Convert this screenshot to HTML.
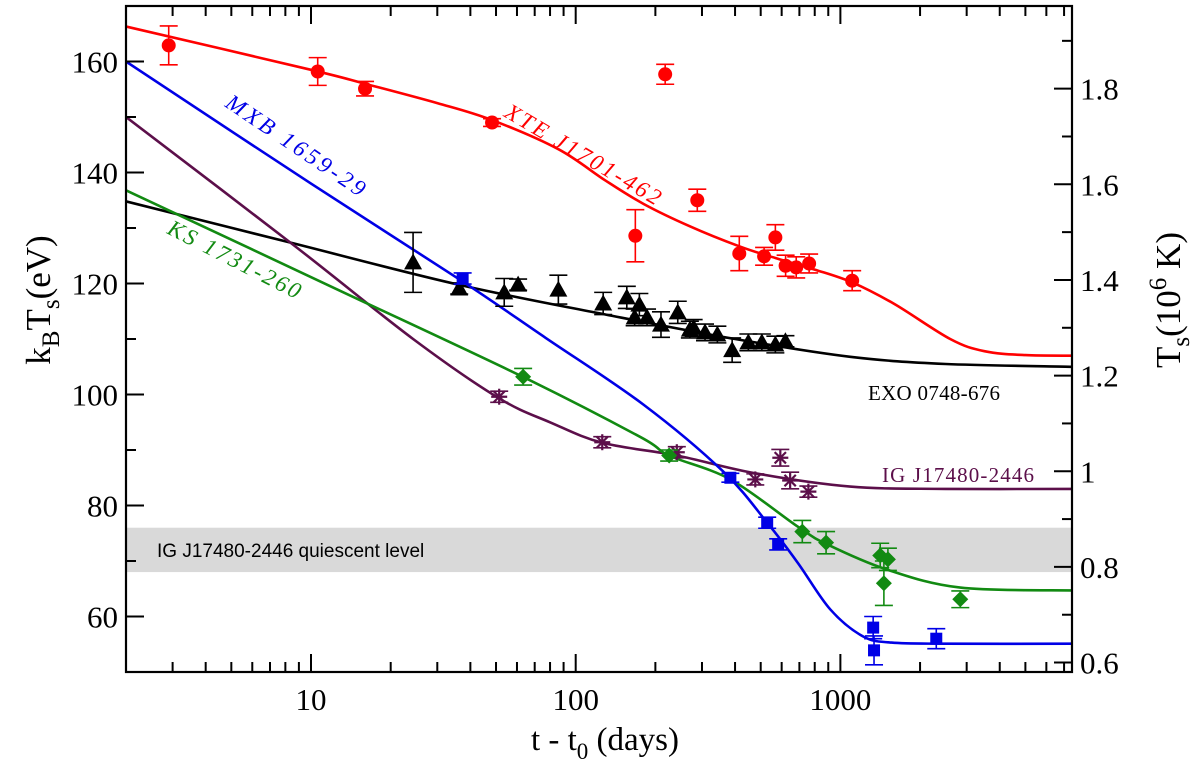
<!DOCTYPE html>
<html><head><meta charset="utf-8"><style>
body{margin:0;background:#fff;}
svg{display:block;font-family:"Liberation Serif",serif;}
</style></head><body>
<svg id="chart" width="1200" height="769" viewBox="0 0 1200 769" xmlns="http://www.w3.org/2000/svg"></svg>
<script>
// ---- data ----
const xTicksMajor = [10, 100, 1000];
const xTickLabels = ["10", "100", "1000"];
const yTicks = [60, 80, 100, 120, 140, 160];
const yTickLabels = ["60", "80", "100", "120", "140", "160"];
const rTicks = [0.6, 0.8, 1.0, 1.2, 1.4, 1.6, 1.8];
const rTickLabels = ["0.6", "0.8", "1", "1.2", "1.4", "1.6", "1.8"];
const bandRange = [68, 76];

const xteCurve = [[2,166.3],[10,158.5],[16,156],[30,152.5],[48,149.5],[86,144.2],[130,138.5],[181,134.3],[270,130.3],[415,126.7],[568,124.6],[800,122.5],[1108,120.2],[1600,116.3],[2600,110],[3500,107.8],[5000,107.1],[7500,107]];
const exoCurve = [[2,134.8],[8.3,127.4],[36,119.8],[130,114.4],[400,110],[1089,106.8],[2500,105.5],[7500,105]];
const mxbCurve = [[2,160],[10,138],[37,120.5],[77,110.2],[180,98.2],[361,86.1],[529,76.9],[690,69.7],[915,61.3],[1220,56.4],[1560,55.3],[2500,55.1],[7500,55.1]];
const igCurve = [[2,150],[8.55,127],[24.3,110],[51,99.4],[80,95],[126,91.3],[241,89],[477,85.8],[1089,83.4],[2500,83],[7500,83]];
const ksCurve = [[2,136.8],[12.1,119.3],[63,103.2],[176,92.3],[225,89],[384,84.7],[690,76.2],[883,73.1],[1490,68.5],[2838,65.2],[7500,64.7]];

const xtePts = [[2.9,162.9,3.5],[10.6,158.2,2.5],[16,155.1,1.3],[48.3,149,0.7],[217.8,157.7,1.8],[168,128.6,4.7],[288,135,2],[415,125.4,3.1],[515,124.9,1.6],[568,128.3,2.3],[621,123.2,1.9],[681,122.9,1.9],[762,123.6,1.7],[1108,120.5,1.8]];
const exoPts = [[24.3,123.8,5.4],[36.3,119.1,1],[53.7,118.4,2.5],[60.6,119.8,1],[86,118.9,2.6],[127,116.4,2],[156,117.5,2],[167,113.9,1.5],[174,116.2,2],[186,113.9,1.5],[210,112.6,2.3],[243,114.8,2],[270,111.7,1.5],[279,112,1.5],[308,111.2,1.5],[343,110.8,1.5],[390,108,2.2],[449,109.4,1.5],[505,109.4,1.5],[568,109,1.5],[620,109.6,1]];
const mxbPts = [[37.4,120.9,1],[384,85,0.8],[529,76.9,1],[582,73,1],[1330,58,2],[1340,53.9,2.6],[2303,56,1.8]];
const ksPts = [[63.3,103.2,1.5],[225.5,89,1],[718,75.3,2],[883,73.3,2],[1414,71,2.2],[1512,70.3,2],[1460,66,4],[2838,63.1,1.5]];
const igPts = [[51.4,99.6,1],[126,91.4,1],[241,89.6,1],[477,84.7,1],[593,88.6,1.5],[646,84.5,1.5],[757,82.5,1]];

// ---- axes ----
const L=126,R=1072,T=6,B=672;
const XMIN=2,XMAX=7500,YMIN=50,YMAX=170;
const KCONV=86.17;
function sx(t){return L+(Math.log10(t)-Math.log10(XMIN))/(Math.log10(XMAX)-Math.log10(XMIN))*(R-L);}
function sy(v){return B-(v-YMIN)/(YMAX-YMIN)*(B-T);}
function sr(Tv){return sy(Tv*KCONV);}

const svg=document.getElementById('chart');
const NS='http://www.w3.org/2000/svg';
function mk(tag,attrs,parent){const e=document.createElementNS(NS,tag);for(const k in attrs)e.setAttribute(k,attrs[k]);(parent||svg).appendChild(e);return e;}

const defs=mk('defs',{});
const cp=mk('clipPath',{id:'plotclip'},defs);
mk('rect',{x:L,y:T,width:R-L,height:B-T},cp);

const band=mk('rect',{x:L,y:sy(bandRange[1]),width:R-L,height:sy(bandRange[0])-sy(bandRange[1]),fill:'#d9d9d9'});


const bt=mk('text',{x:157,y:(sy(bandRange[0])+sy(bandRange[1]))/2+7,'font-family':'"Liberation Sans",sans-serif','font-size':19,fill:'#000'});
bt.textContent='IG J17480-2446 quiescent level';



const gc=mk('g',{'clip-path':'url(#plotclip)'});
function smoothPath(pts){
  let d='M'+pts[0][0].toFixed(1)+','+pts[0][1].toFixed(1);
  for(let i=0;i<pts.length-1;i++){
    const p0=pts[Math.max(i-1,0)],p1=pts[i],p2=pts[i+1],p3=pts[Math.min(i+2,pts.length-1)];
    const c1x=p1[0]+(p2[0]-p0[0])/6,c1y=p1[1]+(p2[1]-p0[1])/6;
    const c2x=p2[0]-(p3[0]-p1[0])/6,c2y=p2[1]-(p3[1]-p1[1])/6;
    d+=` C${c1x.toFixed(1)},${c1y.toFixed(1)} ${c2x.toFixed(1)},${c2y.toFixed(1)} ${p2[0].toFixed(1)},${p2[1].toFixed(1)}`;
  }
  return d;
}
function curve(data,color,name){
  const px=data.map(p=>[sx(p[0]),sy(p[1])]);
  const p=mk('path',{d:smoothPath(px),fill:'none',stroke:color,'stroke-width':2.6,'stroke-linejoin':'round'},gc);
  
  
}
curve(exoCurve,'#000','exo-model-curve');
curve(igCurve,'#5c0f4a','ig-model-curve');
curve(ksCurve,'#128a12','ks-model-curve');
curve(mxbCurve,'#0000e6','mxb-model-curve');
curve(xteCurve,'#f00','xte-model-curve');

function errbar(g,p,color){
  const x=sx(p[0]),y1=sy(p[1]-p[2]),y2=sy(p[1]+p[2]);
  mk('line',{x1:x,x2:x,y1:y1,y2:y2,stroke:color,'stroke-width':1.6},g);
  mk('line',{x1:x-9,x2:x+9,y1:y1,y2:y1,stroke:color,'stroke-width':1.6},g);
  mk('line',{x1:x-9,x2:x+9,y1:y2,y2:y2,stroke:color,'stroke-width':1.6},g);
}
function series(pts,color,shape,name){
  const g=mk('g',{});
  
  
  pts.forEach(p=>{
    errbar(g,p,color);
    const x=sx(p[0]),y=sy(p[1]);
    let m;
    if(shape==='circle')m=mk('circle',{cx:x,cy:y,r:7,fill:color},g);
    else if(shape==='tri')m=mk('polygon',{points:`${x},${y-9} ${x-9},${y+7} ${x+9},${y+7}`,fill:color},g);
    else if(shape==='sq')m=mk('rect',{x:x-6,y:y-6,width:12,height:12,fill:color},g);
    else if(shape==='dia')m=mk('polygon',{points:`${x},${y-8} ${x+8},${y} ${x},${y+8} ${x-8},${y}`,fill:color},g);
    else {m=mk('g',{stroke:color,'stroke-width':2.2},g);
      for(let a=0;a<4;a++){const an=a*Math.PI/4,dx=8*Math.cos(an),dy=8*Math.sin(an);mk('line',{x1:x-dx,y1:y-dy,x2:x+dx,y2:y+dy},m);}}
    
    
  });
}
series(exoPts,'#000','tri','exo-data');
series(igPts,'#5c0f4a','star','ig-data');
series(ksPts,'#128a12','dia','ks-data');
series(mxbPts,'#0000e6','sq','mxb-data');
series(xtePts,'#f00','circle','xte-data');

function lab(txt,x,y,rot,color,name,italic,len,fs){
  const a={x:x,y:y,fill:color,'font-size':fs||23,'font-style':italic?'italic':'normal',transform:`rotate(${rot} ${x} ${y})`};
  if(len){a.textLength=len;a.lengthAdjust='spacing';}
  const t=mk('text',a);
  t.textContent=txt;
  
  
}
lab('MXB 1659-29',224,106,34,'#0000e6','mxb-label',true,163);
lab('XTE J1701-462',503,116,30.5,'#f00','xte-label',true,177);
lab('KS 1731-260',166,233,27,'#128a12','ks-label',true,146);
lab('EXO 0748-676',868,400,0,'#000','exo-label',false,132,21);
lab('IG J17480-2446',882,482,0,'#5c0f4a','ig-label',false,152,21);

const fr=mk('rect',{x:L,y:T,width:R-L,height:B-T,fill:'none',stroke:'#000','stroke-width':2.2});



const tg=mk('g',{stroke:'#000','stroke-width':2});


for(let dec=1;dec<=1000;dec*=10){for(let k=1;k<10;k++){const v=dec*k;if(v<XMIN||v>XMAX)continue;const x=sx(v);const len=(k===1)?18:10;
  mk('line',{x1:x,x2:x,y1:B,y2:B-len},tg);mk('line',{x1:x,x2:x,y1:T,y2:T+len},tg);}}
for(let v=50;v<=170;v+=10){const y=sy(v);const len=(v%20===0)?18:10;mk('line',{x1:L,x2:L+len,y1:y,y2:y},tg);}
for(let v=0.6;v<=1.95;v+=0.1){const y=sr(v);if(y<T)continue;const major=Math.round(v*10)%2===0;mk('line',{x1:R,x2:R-(major?18:10),y1:y,y2:y},tg);}

xTicksMajor.forEach((v,i)=>{const t=mk('text',{x:sx(v),y:B+38,'text-anchor':'middle','font-size':31});t.textContent=xTickLabels[i];
  });
yTicks.forEach((v,i)=>{const t=mk('text',{x:L-8,y:sy(v)+11,'text-anchor':'end','font-size':31});t.textContent=yTickLabels[i];
  });
rTicks.forEach((v,i)=>{const t=mk('text',{x:R+8,y:sr(v)+11,'text-anchor':'start','font-size':31});t.textContent=rTickLabels[i];
  });

let t=mk('text',{x:605,y:750,'text-anchor':'middle','font-size':33});
t.innerHTML='t - t<tspan dy="9" font-size="23">0</tspan><tspan dy="-9"> (days)</tspan>';

t=mk('text',{x:0,y:0,'text-anchor':'middle','font-size':35,transform:'translate(50 300) rotate(-90)'});
t.innerHTML='k<tspan dy="9" font-size="25">B</tspan><tspan dy="-9">T</tspan><tspan dy="9" font-size="25">s</tspan><tspan dy="-9">(eV)</tspan>';

t=mk('text',{x:0,y:0,'text-anchor':'middle','font-size':35,transform:'translate(1180 300) rotate(-90)'});
t.innerHTML='T<tspan dy="9" font-size="25">s</tspan><tspan dy="-9">(10</tspan><tspan dy="-14" font-size="25">6</tspan><tspan dy="14"> K)</tspan>';

</script>
</body></html>
